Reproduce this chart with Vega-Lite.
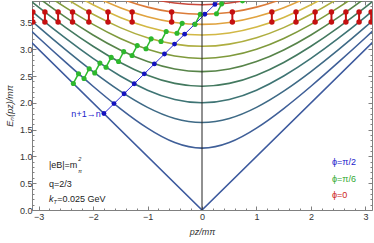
{
"$schema": "https://vega.github.io/schema/vega-lite/v6.json",
"width": 340, "height": 209,
"autosize": "none",
"padding": {"left": 32, "top": 1, "right": 2, "bottom": 33},
"config": {
 "view": {"stroke": "#808080", "strokeWidth": 1},
 "axis": {"labelFont": "Liberation Sans", "labelFontSize": 9, "labelColor": "#333", "titleFont": "Liberation Sans", "titleFontSize": 9, "titleFontWeight": "normal", "titleFontStyle": "italic", "titleColor": "#333", "tickColor": "#808080", "domain": false, "grid": false, "labelOverlap": false, "labelFlush": false, "labelBound": false, "tickCount": 100}
},
"datasets": {
 "curves": [
  {"n":0,"p":-3.5,"E":3.5},{"n":0,"p":0,"E":0},{"n":0,"p":3.5,"E":3.5},
  {"n":1,"p":-3.5,"E":3.6856},{"n":1,"p":-3,"E":3.2146},{"n":1,"p":-2.5,"E":2.7538},{"n":1,"p":-2,"E":2.3094},{"n":1,"p":-1.5,"E":1.8930},{"n":1,"p":-1,"E":1.5275},{"n":1,"p":-0.5,"E":1.2583},{"n":1,"p":0,"E":1.1547},{"n":1,"p":0.5,"E":1.2583},{"n":1,"p":1,"E":1.5275},{"n":1,"p":1.5,"E":1.8930},{"n":1,"p":2,"E":2.3094},{"n":1,"p":2.5,"E":2.7538},{"n":1,"p":3,"E":3.2146},{"n":1,"p":3.5,"E":3.6856},
  {"n":2,"p":-3.5,"E":3.8622},{"n":2,"p":-3,"E":3.4157},{"n":2,"p":-2.5,"E":2.9861},{"n":2,"p":-2,"E":2.5820},{"n":2,"p":-1.5,"E":2.2174},{"n":2,"p":-1,"E":1.9149},{"n":2,"p":-0.5,"E":1.7078},{"n":2,"p":0,"E":1.6330},{"n":2,"p":0.5,"E":1.7078},{"n":2,"p":1,"E":1.9149},{"n":2,"p":1.5,"E":2.2174},{"n":2,"p":2,"E":2.5820},{"n":2,"p":2.5,"E":2.9861},{"n":2,"p":3,"E":3.4157},{"n":2,"p":3.5,"E":3.8622},
  {"n":3,"p":-3.5,"E":4.0311},{"n":3,"p":-3,"E":3.6056},{"n":3,"p":-2.5,"E":3.2016},{"n":3,"p":-2,"E":2.8284},{"n":3,"p":-1.5,"E":2.5},{"n":3,"p":-1,"E":2.2361},{"n":3,"p":-0.5,"E":2.0616},{"n":3,"p":0,"E":2},{"n":3,"p":0.5,"E":2.0616},{"n":3,"p":1,"E":2.2361},{"n":3,"p":1.5,"E":2.5},{"n":3,"p":2,"E":2.8284},{"n":3,"p":2.5,"E":3.2016},{"n":3,"p":3,"E":3.6056},{"n":3,"p":3.5,"E":4.0311},
  {"n":4,"p":-3.5,"E":4.1932},{"n":4,"p":-3,"E":3.7859},{"n":4,"p":-2.5,"E":3.4034},{"n":4,"p":-2,"E":3.0551},{"n":4,"p":-1.5,"E":2.7538},{"n":4,"p":-1,"E":2.5166},{"n":4,"p":-0.5,"E":2.3629},{"n":4,"p":0,"E":2.3094},{"n":4,"p":0.5,"E":2.3629},{"n":4,"p":1,"E":2.5166},{"n":4,"p":1.5,"E":2.7538},{"n":4,"p":2,"E":3.0551},{"n":4,"p":2.5,"E":3.4034},{"n":4,"p":3,"E":3.7859},{"n":4,"p":3.5,"E":4.1932},
  {"n":5,"p":-3.5,"E":4.3493},{"n":5,"p":-3,"E":3.9581},{"n":5,"p":-2.5,"E":3.5940},{"n":5,"p":-2,"E":3.2660},{"n":5,"p":-1.5,"E":2.9861},{"n":5,"p":-1,"E":2.7689},{"n":5,"p":-0.5,"E":2.6300},{"n":5,"p":0,"E":2.5820},{"n":5,"p":0.5,"E":2.6300},{"n":5,"p":1,"E":2.7689},{"n":5,"p":1.5,"E":2.9861},{"n":5,"p":2,"E":3.2660},{"n":5,"p":2.5,"E":3.5940},{"n":5,"p":3,"E":3.9581},{"n":5,"p":3.5,"E":4.3493},
  {"n":6,"p":-3.5,"E":4.5},{"n":6,"p":-3,"E":4.1231},{"n":6,"p":-2.5,"E":3.7749},{"n":6,"p":-2,"E":3.4641},{"n":6,"p":-1.5,"E":3.2016},{"n":6,"p":-1,"E":3},{"n":6,"p":-0.5,"E":2.8723},{"n":6,"p":0,"E":2.8284},{"n":6,"p":0.5,"E":2.8723},{"n":6,"p":1,"E":3},{"n":6,"p":1.5,"E":3.2016},{"n":6,"p":2,"E":3.4641},{"n":6,"p":2.5,"E":3.7749},{"n":6,"p":3,"E":4.1231},{"n":6,"p":3.5,"E":4.5},
  {"n":7,"p":-3.5,"E":4.6458},{"n":7,"p":-3,"E":4.2817},{"n":7,"p":-2.5,"E":3.9476},{"n":7,"p":-2,"E":3.6515},{"n":7,"p":-1.5,"E":3.4034},{"n":7,"p":-1,"E":3.2146},{"n":7,"p":-0.5,"E":3.0957},{"n":7,"p":0,"E":3.0551},{"n":7,"p":0.5,"E":3.0957},{"n":7,"p":1,"E":3.2146},{"n":7,"p":1.5,"E":3.4034},{"n":7,"p":2,"E":3.6515},{"n":7,"p":2.5,"E":3.9476},{"n":7,"p":3,"E":4.2817},{"n":7,"p":3.5,"E":4.6458},
  {"n":8,"p":-3.5,"E":4.7871},{"n":8,"p":-3,"E":4.4347},{"n":8,"p":-2.5,"E":4.1130},{"n":8,"p":-2,"E":3.8297},{"n":8,"p":-1.5,"E":3.5940},{"n":8,"p":-1,"E":3.4157},{"n":8,"p":-0.5,"E":3.3040},{"n":8,"p":0,"E":3.2660},{"n":8,"p":0.5,"E":3.3040},{"n":8,"p":1,"E":3.4157},{"n":8,"p":1.5,"E":3.5940},{"n":8,"p":2,"E":3.8297},{"n":8,"p":2.5,"E":4.1130},{"n":8,"p":3,"E":4.4347},{"n":8,"p":3.5,"E":4.7871},
  {"n":9,"p":-3.5,"E":4.9244},{"n":9,"p":-3,"E":4.5826},{"n":9,"p":-2.5,"E":4.2720},{"n":9,"p":-2,"E":4},{"n":9,"p":-1.5,"E":3.7749},{"n":9,"p":-1,"E":3.6056},{"n":9,"p":-0.5,"E":3.5},{"n":9,"p":0,"E":3.4641},{"n":9,"p":0.5,"E":3.5},{"n":9,"p":1,"E":3.6056},{"n":9,"p":1.5,"E":3.7749},{"n":9,"p":2,"E":4},{"n":9,"p":2.5,"E":4.2720},{"n":9,"p":3,"E":4.5826},{"n":9,"p":3.5,"E":4.9244},
  {"n":10,"p":-3.5,"E":5.0580},{"n":10,"p":-3,"E":4.7258},{"n":10,"p":-2.5,"E":4.4253},{"n":10,"p":-2,"E":4.1633},{"n":10,"p":-1.5,"E":3.9476},{"n":10,"p":-1,"E":3.7859},{"n":10,"p":-0.5,"E":3.6856},{"n":10,"p":0,"E":3.6515},{"n":10,"p":0.5,"E":3.6856},{"n":10,"p":1,"E":3.7859},{"n":10,"p":1.5,"E":3.9476},{"n":10,"p":2,"E":4.1633},{"n":10,"p":2.5,"E":4.4253},{"n":10,"p":3,"E":4.7258},{"n":10,"p":3.5,"E":5.0580},
  {"n":11,"p":-3.5,"E":5.1881},{"n":11,"p":-3,"E":4.8648},{"n":11,"p":-2.5,"E":4.5735},{"n":11,"p":-2,"E":4.3205},{"n":11,"p":-1.5,"E":4.1130},{"n":11,"p":-1,"E":3.9581},{"n":11,"p":-0.5,"E":3.8622},{"n":11,"p":0,"E":3.8297},{"n":11,"p":0.5,"E":3.8622},{"n":11,"p":1,"E":3.9581},{"n":11,"p":1.5,"E":4.1130},{"n":11,"p":2,"E":4.3205},{"n":11,"p":2.5,"E":4.5735},{"n":11,"p":3,"E":4.8648},{"n":11,"p":3.5,"E":5.1881}
 ],
 "blue": [
  {"n":0,"p":-1.800,"E":1.800},{"n":1,"p":-1.615,"E":1.985},{"n":2,"p":-1.430,"E":2.170},{"n":3,"p":-1.244,"E":2.356},{"n":4,"p":-1.059,"E":2.541},{"n":5,"p":-0.874,"E":2.726},{"n":6,"p":-0.689,"E":2.911},{"n":7,"p":-0.504,"E":3.096},{"n":8,"p":-0.319,"E":3.281},{"n":9,"p":-0.133,"E":3.467},{"n":10,"p":0.052,"E":3.652},{"n":11,"p":0.237,"E":3.837},{"n":12,"p":0.422,"E":4.022}
 ],
 "green": [
  {"k":0,"pl":-2.361,"El":2.361,"pu":-2.266,"Eu":2.543},
  {"k":1,"pl":-2.165,"El":2.454,"pu":-2.070,"Eu":2.637},
  {"k":2,"pl":-1.969,"El":2.558,"pu":-1.874,"Eu":2.741},
  {"k":3,"pl":-1.761,"El":2.665,"pu":-1.666,"Eu":2.848},
  {"k":4,"pl":-1.532,"El":2.771,"pu":-1.437,"Eu":2.955},
  {"k":5,"pl":-1.284,"El":2.884,"pu":-1.189,"Eu":3.068},
  {"k":6,"pl":-1.028,"El":3.009,"pu":-0.933,"Eu":3.194},
  {"k":7,"pl":-0.752,"El":3.146,"pu":-0.657,"Eu":3.332},
  {"k":8,"pl":-0.459,"El":3.298,"pu":-0.364,"Eu":3.483},
  {"k":9,"pl":-0.128,"El":3.466,"pu":-0.033,"Eu":3.652},
  {"k":10,"pl":0.266,"El":3.661,"pu":0.361,"Eu":3.847},
  {"k":11,"pl":0.743,"El":3.901,"pu":0.838,"Eu":4.09}
 ],
 "red": [
  {"p":-3.105,"Et":3.694,"Eb":3.509},{"p":-2.883,"Et":3.694,"Eb":3.509},{"p":-2.641,"Et":3.694,"Eb":3.509},{"p":-2.376,"Et":3.694,"Eb":3.509},{"p":-2.076,"Et":3.694,"Eb":3.509},{"p":-1.725,"Et":3.694,"Eb":3.509},{"p":-1.282,"Et":3.694,"Eb":3.509},{"p":-0.557,"Et":3.694,"Eb":3.509},
  {"p":0.557,"Et":3.694,"Eb":3.509},{"p":1.282,"Et":3.694,"Eb":3.509},{"p":1.725,"Et":3.694,"Eb":3.509},{"p":2.076,"Et":3.694,"Eb":3.509},{"p":2.376,"Et":3.694,"Eb":3.509},{"p":2.641,"Et":3.694,"Eb":3.509},{"p":2.883,"Et":3.694,"Eb":3.509},{"p":3.105,"Et":3.694,"Eb":3.509}
 ],
 "zero": [{"p": 0, "lo": 0, "hi": 3.9}]
},
"layer": [
 {"layer": [
  {"data": {"name": "curves"}, "transform": [{"filter": "datum.n > 0"}],
   "mark": {"type": "line", "interpolate": "natural", "strokeWidth": 1.6, "clip": true},
   "encoding": {
    "x": {"field": "p", "type": "quantitative", "scale": {"domain": [-3.12, 3.12], "nice": false, "zero": false},
     "axis": {"orient": "bottom", "title": "pz/mπ", "values": [-3,-2,-1,0,1,2,3], "tickCount": 100, "format": "d", "tickSize": -4, "labelPadding": 6, "titlePadding": 6}},
    "y": {"field": "E", "type": "quantitative", "scale": {"domain": [0, 3.9], "nice": false, "zero": false},
     "axis": {"orient": "left", "title": "Eₙ(pz)/mπ", "values": [0,0.5,1,1.5,2,2.5,3,3.5], "tickCount": 100, "format": ".1f", "tickSize": -4, "labelPadding": 4, "titlePadding": 5}},
    "color": {"field": "n", "type": "ordinal", "legend": null,
     "scale": {"domain": [0,1,2,3,4,5,6,7,8,9,10,11], "range": ["#3d5a9e","#3f5f98","#3e6a86","#3e7474","#43795f","#578449","#7f9a3c","#aeae40","#d2b845","#e0a33f","#db7b38","#c8473a"]}},
    "detail": {"field": "n"}
   }},
  {"data": {"name": "curves"}, "transform": [{"filter": "datum.n == 0"}],
   "mark": {"type": "line", "interpolate": "linear", "strokeWidth": 1.6, "clip": true, "color": "#3d5a9e"},
   "encoding": {"x": {"field": "p", "type": "quantitative"}, "y": {"field": "E", "type": "quantitative"}}},
  {"data": {"name": "blue"},
   "mark": {"type": "line", "color": "#2a2ad0", "strokeWidth": 1, "clip": true},
   "encoding": {"x": {"field": "p", "type": "quantitative"}, "y": {"field": "E", "type": "quantitative"}, "order": {"field": "n"}}},
  {"data": {"name": "blue"}, "transform": [{"filter": "datum.n < 12"}],
   "mark": {"type": "point", "filled": true, "shape": "circle", "size": 24, "opacity": 1, "color": "#1212c0", "clip": true},
   "encoding": {"x": {"field": "p", "type": "quantitative"}, "y": {"field": "E", "type": "quantitative"}}},
  {"data": {"name": "green"},
   "mark": {"type": "rule", "color": "#2db82d", "strokeWidth": 1.5, "clip": true},
   "encoding": {"x": {"field": "pl", "type": "quantitative"}, "y": {"field": "El", "type": "quantitative"}, "x2": {"field": "pu"}, "y2": {"field": "Eu"}}},
  {"data": {"name": "green"},
   "mark": {"type": "point", "filled": true, "shape": "circle", "size": 26, "opacity": 1, "color": "#2db82d", "clip": true},
   "encoding": {"x": {"field": "pl", "type": "quantitative"}, "y": {"field": "El", "type": "quantitative"}}},
  {"data": {"name": "green"},
   "mark": {"type": "point", "filled": true, "shape": "circle", "size": 26, "opacity": 1, "color": "#2db82d", "clip": true},
   "encoding": {"x": {"field": "pu", "type": "quantitative"}, "y": {"field": "Eu", "type": "quantitative"}}},
  {"data": {"name": "red"},
   "mark": {"type": "rule", "color": "#c41010", "strokeWidth": 2, "clip": true},
   "encoding": {"x": {"field": "p", "type": "quantitative"}, "y": {"field": "Eb", "type": "quantitative"}, "y2": {"field": "Et"}}},
  {"data": {"name": "red"},
   "mark": {"type": "point", "filled": true, "shape": "circle", "size": 30, "opacity": 1, "color": "#c41010", "clip": true},
   "encoding": {"x": {"field": "p", "type": "quantitative"}, "y": {"field": "Et", "type": "quantitative"}}},
  {"data": {"name": "red"},
   "mark": {"type": "point", "filled": true, "shape": "circle", "size": 30, "opacity": 1, "color": "#c41010", "clip": true},
   "encoding": {"x": {"field": "p", "type": "quantitative"}, "y": {"field": "Eb", "type": "quantitative"}}},
  {"data": {"values": [{"t": "n+1→n", "p": -1.86, "E": 1.8}]},
   "mark": {"type": "text", "align": "right", "baseline": "middle", "font": "Liberation Sans", "fontSize": 9, "color": "#2222cc"},
   "encoding": {"x": {"field": "p", "type": "quantitative"}, "y": {"field": "E", "type": "quantitative"}, "text": {"field": "t"}}},
  {"data": {"values": [{"t": "|eB|=m", "p": -2.81, "E": 0.84}, {"t": "q=2/3", "p": -2.81, "E": 0.485}, {"t": "=0.025 GeV", "p": -2.657, "E": 0.2}]},
   "mark": {"type": "text", "align": "left", "baseline": "middle", "font": "Liberation Sans", "fontSize": 9, "color": "#222"},
   "encoding": {"x": {"field": "p", "type": "quantitative"}, "y": {"field": "E", "type": "quantitative"}, "text": {"field": "t"}}},
  {"data": {"values": [{"t": "k", "p": -2.81, "E": 0.2}]},
   "mark": {"type": "text", "align": "left", "baseline": "middle", "font": "Liberation Sans", "fontSize": 9, "fontStyle": "italic", "color": "#222"},
   "encoding": {"x": {"field": "p", "type": "quantitative"}, "y": {"field": "E", "type": "quantitative"}, "text": {"field": "t"}}},
  {"data": {"values": [{"t": "2", "p": -2.27, "E": 0.945}, {"t": "π", "p": -2.27, "E": 0.735}, {"t": "T", "p": -2.727, "E": 0.15}]},
   "mark": {"type": "text", "align": "left", "baseline": "middle", "font": "Liberation Sans", "fontSize": 5.5, "fontStyle": "italic", "color": "#222"},
   "encoding": {"x": {"field": "p", "type": "quantitative"}, "y": {"field": "E", "type": "quantitative"}, "text": {"field": "t"}}},
  {"data": {"values": [{"t": "ϕ=π/2", "p": 2.385, "E": 0.9}]},
   "mark": {"type": "text", "align": "left", "baseline": "middle", "font": "Liberation Sans", "fontSize": 9, "color": "#2222cc"},
   "encoding": {"x": {"field": "p", "type": "quantitative"}, "y": {"field": "E", "type": "quantitative"}, "text": {"field": "t"}}},
  {"data": {"values": [{"t": "ϕ=π/6", "p": 2.385, "E": 0.58}]},
   "mark": {"type": "text", "align": "left", "baseline": "middle", "font": "Liberation Sans", "fontSize": 9, "color": "#33aa33"},
   "encoding": {"x": {"field": "p", "type": "quantitative"}, "y": {"field": "E", "type": "quantitative"}, "text": {"field": "t"}}},
  {"data": {"values": [{"t": "ϕ=0", "p": 2.385, "E": 0.28}]},
   "mark": {"type": "text", "align": "left", "baseline": "middle", "font": "Liberation Sans", "fontSize": 9, "color": "#cc2222"},
   "encoding": {"x": {"field": "p", "type": "quantitative"}, "y": {"field": "E", "type": "quantitative"}, "text": {"field": "t"}}}
 ]},
 {"data": {"name": "zero"},
  "mark": {"type": "rule", "color": "#222", "strokeWidth": 1},
  "encoding": {
   "x": {"field": "p", "type": "quantitative", "scale": {"domain": [-3.12, 3.12], "nice": false, "zero": false},
    "axis": {"orient": "bottom", "title": null, "labels": false, "tickSize": -2, "tickCount": 100, "values": [-2.8,-2.6,-2.4,-2.2,-1.8,-1.6,-1.4,-1.2,-0.8,-0.6,-0.4,-0.2,0.2,0.4,0.6,0.8,1.2,1.4,1.6,1.8,2.2,2.4,2.6,2.8]}},
   "y": {"field": "lo", "type": "quantitative", "scale": {"domain": [0, 3.9], "nice": false, "zero": false},
    "axis": {"orient": "left", "title": null, "labels": false, "tickSize": -2, "tickCount": 100, "values": [0.1,0.2,0.3,0.4,0.6,0.7,0.8,0.9,1.1,1.2,1.3,1.4,1.6,1.7,1.8,1.9,2.1,2.2,2.3,2.4,2.6,2.7,2.8,2.9,3.1,3.2,3.3,3.4,3.6,3.7,3.8]}},
   "y2": {"field": "hi"}
  }},
 {"data": {"name": "zero"},
  "mark": {"type": "rule", "strokeOpacity": 0},
  "encoding": {
   "x": {"field": "p", "type": "quantitative", "scale": {"domain": [-3.12, 3.12], "nice": false, "zero": false},
    "axis": {"orient": "top", "title": null, "labels": false, "tickSize": -4, "tickCount": 100, "values": [-3,-2,-1,0,1,2,3]}},
   "y": {"field": "lo", "type": "quantitative", "scale": {"domain": [0, 3.9], "nice": false, "zero": false},
    "axis": {"orient": "right", "title": null, "labels": false, "tickSize": -4, "tickCount": 100, "values": [0,0.5,1,1.5,2,2.5,3,3.5]}},
   "y2": {"field": "hi"}
  }},
 {"data": {"name": "zero"},
  "mark": {"type": "rule", "strokeOpacity": 0},
  "encoding": {
   "x": {"field": "p", "type": "quantitative", "scale": {"domain": [-3.12, 3.12], "nice": false, "zero": false},
    "axis": {"orient": "top", "title": null, "labels": false, "tickSize": -2, "tickCount": 100, "values": [-2.8,-2.6,-2.4,-2.2,-1.8,-1.6,-1.4,-1.2,-0.8,-0.6,-0.4,-0.2,0.2,0.4,0.6,0.8,1.2,1.4,1.6,1.8,2.2,2.4,2.6,2.8]}},
   "y": {"field": "lo", "type": "quantitative", "scale": {"domain": [0, 3.9], "nice": false, "zero": false},
    "axis": {"orient": "right", "title": null, "labels": false, "tickSize": -2, "tickCount": 100, "values": [0.1,0.2,0.3,0.4,0.6,0.7,0.8,0.9,1.1,1.2,1.3,1.4,1.6,1.7,1.8,1.9,2.1,2.2,2.3,2.4,2.6,2.7,2.8,2.9,3.1,3.2,3.3,3.4,3.6,3.7,3.8]}},
   "y2": {"field": "hi"}
  }}
],
"resolve": {"axis": {"x": "independent", "y": "independent"}}
}
